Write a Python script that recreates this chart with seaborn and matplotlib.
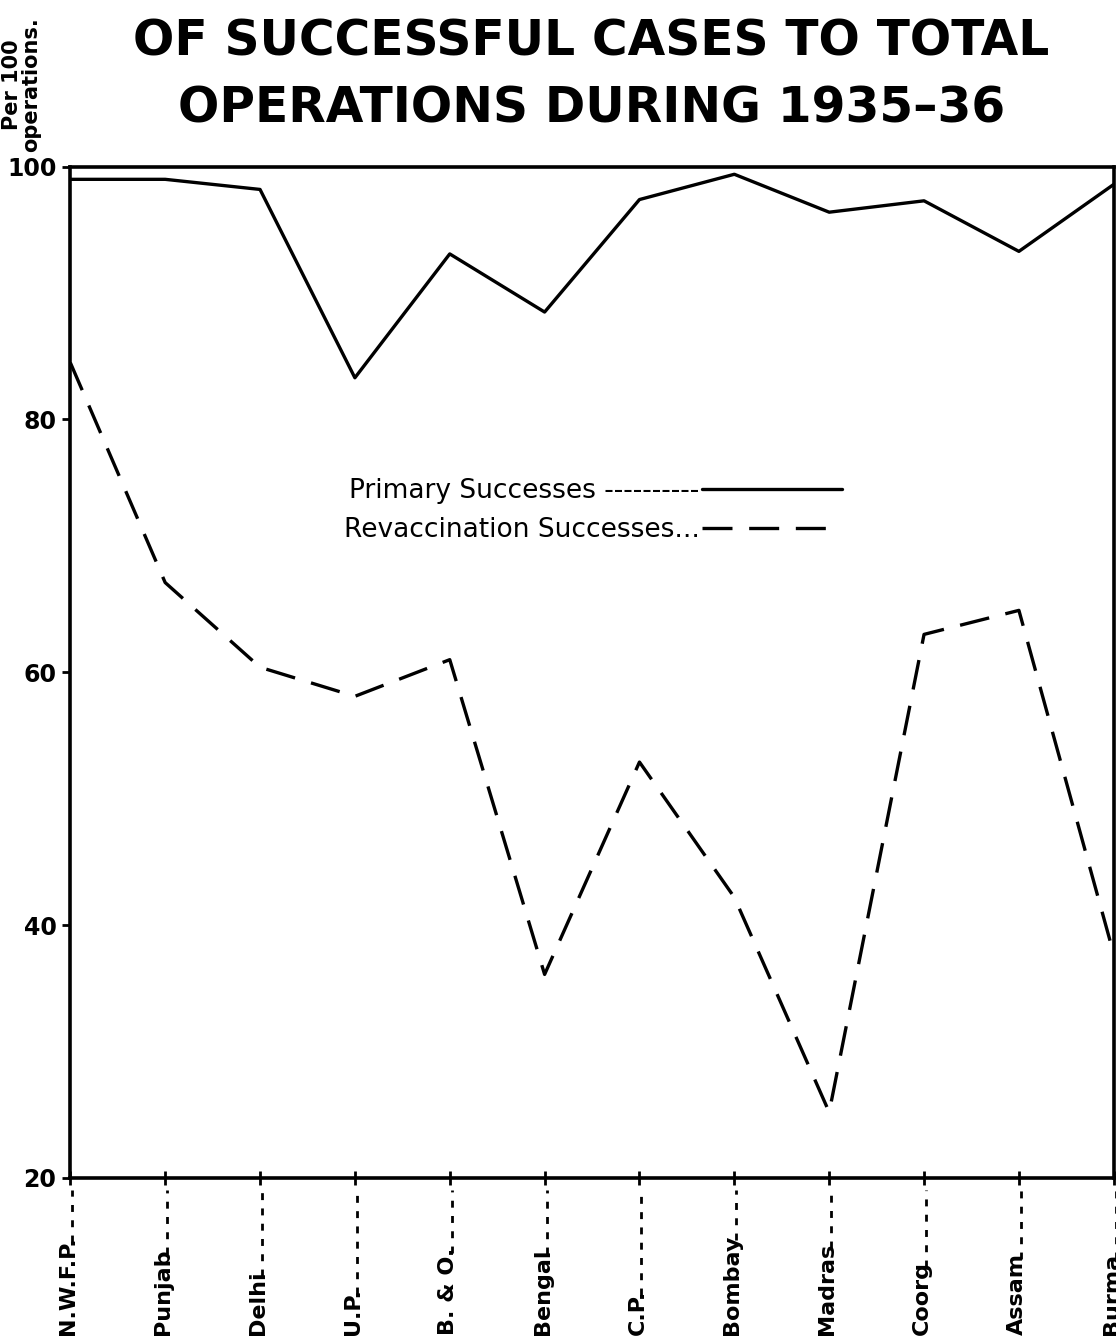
import matplotlib
matplotlib.use("Agg")
import matplotlib.pyplot as plt
import matplotlib.transforms as mtransforms
import seaborn as sns
import pandas as pd

# provinces along the x axis
provinces = ["N.W.F.P.", "Punjab", "Delhi", "U.P.", "B. & O.", "Bengal",
             "C.P.", "Bombay", "Madras", "Coorg", "Assam", "Burma"]

# successes per 100 operations, 1935-36
primary = [99.0, 99.0, 98.2, 83.3, 93.1, 88.5, 97.4, 99.4, 96.4, 97.3, 93.3, 98.6]
revaccination = [84.5, 67.1, 60.4, 58.1, 61.0, 36.1, 52.9, 42.2, 25.2, 63.0, 64.9, 37.7]

y_ticks = [20, 40, 60, 80, 100]

df = pd.DataFrame({"pos": range(len(provinces)),
                   "primary": primary,
                   "revacc": revaccination})

sns.set_style("white")
plt.rcParams["font.family"] = ["DejaVu Sans"]
for key in ["text.color", "axes.labelcolor", "xtick.color", "ytick.color"]:
    plt.rcParams[key] = "black"

fig = plt.figure(figsize=(11.16, 13.41), dpi=100)
ax = fig.add_axes([0.063, 0.1216, 0.935, 0.7541])

sns.lineplot(data=df, x="pos", y="primary", ax=ax, color="black", lw=2.4,
             label="Primary Successes " + "-" * 10)
sns.lineplot(data=df, x="pos", y="revacc", ax=ax, color="black", lw=2.4,
             label="Revaccination Successes" + "." * 3)
ax.lines[1].set_dashes((9, 5))

ax.set_xlim(0, len(provinces) - 1)
ax.set_ylim(20, 100)
ax.set_xlabel("")
ax.set_ylabel("")

for s in ax.spines.values():
    s.set_linewidth(2.6)
    s.set_color("black")

ax.set_yticks(y_ticks)
ax.set_yticklabels([str(v) for v in y_ticks], fontsize=17, fontweight="bold")
ax.tick_params(axis="y", direction="out", length=6, width=2, pad=4, left=True)
ax.set_xticks(range(len(provinces)))
ax.set_xticklabels([])
ax.tick_params(axis="x", direction="inout", length=10, width=2, bottom=True)

# province labels sitting at the bottom, with dotted leaders up to the axis
trans = mtransforms.blended_transform_factory(ax.transData, ax.transAxes)
labels = []
for i, name in enumerate(provinces):
    t = ax.text(i - 0.02, -0.155, name, transform=trans, rotation=90,
                ha="center", va="bottom", fontsize=16, fontweight="bold",
                clip_on=False)
    labels.append(t)

fig.canvas.draw()
inv = ax.transAxes.inverted()
for i, t in enumerate(labels):
    bb = t.get_window_extent()
    top = inv.transform((0, bb.y1))[1]
    ax.plot([i + 0.02, i + 0.02], [top - 0.006, -0.012], transform=trans,
            color="black", lw=2, linestyle=(0, (2.5, 3)), clip_on=False)

leg = ax.legend(loc="upper left", bbox_to_anchor=(0.262, 0.692), frameon=False,
                markerfirst=False, handlelength=5.3, fontsize=19,
                borderpad=0, borderaxespad=0, labelspacing=0.5, handletextpad=0.1)

fig.text(0.53, 0.969, "OF SUCCESSFUL CASES TO TOTAL", ha="center", va="center",
         fontsize=35, fontweight="bold")
fig.text(0.53, 0.919, "OPERATIONS DURING 1935–36", ha="center", va="center",
         fontsize=35, fontweight="bold")
fig.text(0.019, 0.937, "Per 100\noperations.", rotation=90, ha="center", va="center",
         fontsize=15, fontweight="bold", linespacing=0.95)

fig.savefig("out.png", dpi=100, facecolor="white")
